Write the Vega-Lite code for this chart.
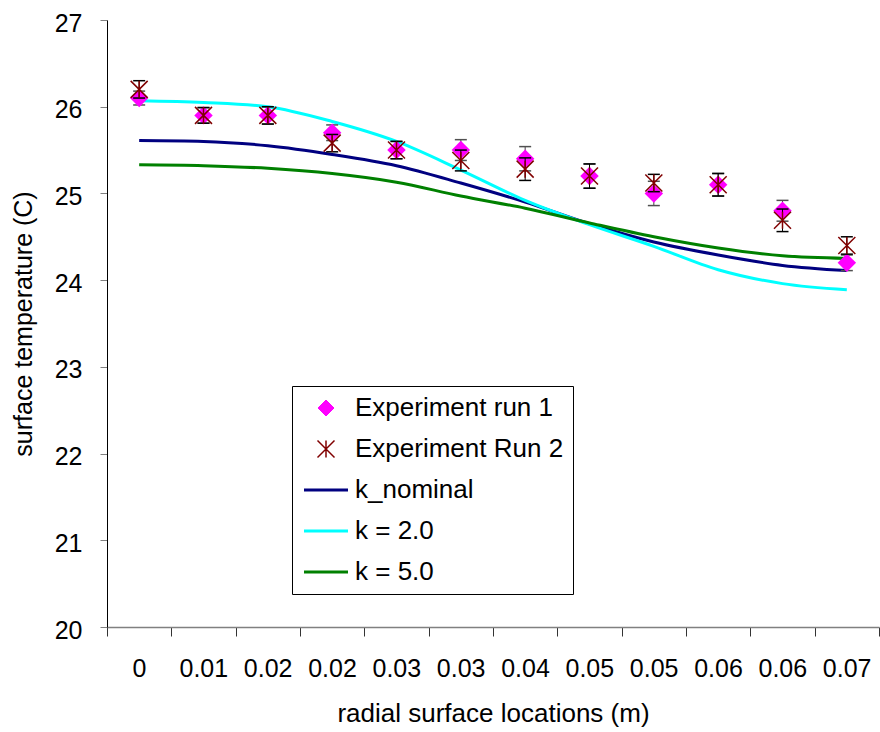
{
  "$schema": "https://vega.github.io/schema/vega-lite/v6.json",
  "width": 772,
  "height": 607,
  "autosize": {"type": "none"},
  "padding": {"left": 107, "top": 20, "right": 1, "bottom": 105},
  "background": "white",
  "config": {
    "view": {"stroke": null},
    "font": "Liberation Sans",
    "axis": {"grid": false, "labelColor": "black", "titleColor": "black", "titleFontWeight": "normal", "labelFont": "Liberation Sans", "titleFont": "Liberation Sans"},
    "legend": {"labelFont": "Liberation Sans"}
  },
  "datasets": {
    "exp": [
      {"series": "Experiment run 1", "i": 0, "t": 26.1, "lo": 26.02, "hi": 26.18},
      {"series": "Experiment run 1", "i": 1, "t": 25.9, "lo": 25.81, "hi": 25.99},
      {"series": "Experiment run 1", "i": 2, "t": 25.9, "lo": 25.8, "hi": 26.0},
      {"series": "Experiment run 1", "i": 3, "t": 25.7, "lo": 25.61, "hi": 25.79},
      {"series": "Experiment run 1", "i": 4, "t": 25.5, "lo": 25.4, "hi": 25.6},
      {"series": "Experiment run 1", "i": 5, "t": 25.5, "lo": 25.38, "hi": 25.62},
      {"series": "Experiment run 1", "i": 6, "t": 25.4, "lo": 25.26, "hi": 25.54},
      {"series": "Experiment run 1", "i": 7, "t": 25.2, "lo": 25.06, "hi": 25.34},
      {"series": "Experiment run 1", "i": 8, "t": 25.0, "lo": 24.86, "hi": 25.14},
      {"series": "Experiment run 1", "i": 9, "t": 25.1, "lo": 24.97, "hi": 25.23},
      {"series": "Experiment run 1", "i": 10, "t": 24.8, "lo": 24.68, "hi": 24.92},
      {"series": "Experiment run 1", "i": 11, "t": 24.2, "lo": 24.11, "hi": 24.29},
      {"series": "Experiment Run 2", "i": 0, "t": 26.2, "lo": 26.1, "hi": 26.3},
      {"series": "Experiment Run 2", "i": 1, "t": 25.9, "lo": 25.81, "hi": 25.99},
      {"series": "Experiment Run 2", "i": 2, "t": 25.9, "lo": 25.8, "hi": 26.0},
      {"series": "Experiment Run 2", "i": 3, "t": 25.58, "lo": 25.48, "hi": 25.68},
      {"series": "Experiment Run 2", "i": 4, "t": 25.5, "lo": 25.4, "hi": 25.6},
      {"series": "Experiment Run 2", "i": 5, "t": 25.38, "lo": 25.26, "hi": 25.5},
      {"series": "Experiment Run 2", "i": 6, "t": 25.28, "lo": 25.15, "hi": 25.41},
      {"series": "Experiment Run 2", "i": 7, "t": 25.2, "lo": 25.06, "hi": 25.34},
      {"series": "Experiment Run 2", "i": 8, "t": 25.12, "lo": 25.02, "hi": 25.22},
      {"series": "Experiment Run 2", "i": 9, "t": 25.1, "lo": 24.97, "hi": 25.23},
      {"series": "Experiment Run 2", "i": 10, "t": 24.69, "lo": 24.56, "hi": 24.82},
      {"series": "Experiment Run 2", "i": 11, "t": 24.4, "lo": 24.3, "hi": 24.5}
    ],
    "sim": [
      {"series": "k_nominal", "i": 0, "t": 25.61},
      {"series": "k_nominal", "i": 1, "t": 25.6},
      {"series": "k_nominal", "i": 2, "t": 25.55},
      {"series": "k_nominal", "i": 3, "t": 25.45},
      {"series": "k_nominal", "i": 4, "t": 25.32},
      {"series": "k_nominal", "i": 5, "t": 25.12},
      {"series": "k_nominal", "i": 6, "t": 24.9},
      {"series": "k_nominal", "i": 7, "t": 24.65},
      {"series": "k_nominal", "i": 8, "t": 24.44},
      {"series": "k_nominal", "i": 9, "t": 24.29},
      {"series": "k_nominal", "i": 10, "t": 24.17},
      {"series": "k_nominal", "i": 11, "t": 24.11},
      {"series": "k = 2.0", "i": 0, "t": 26.07},
      {"series": "k = 2.0", "i": 1, "t": 26.05},
      {"series": "k = 2.0", "i": 2, "t": 26.0},
      {"series": "k = 2.0", "i": 3, "t": 25.83},
      {"series": "k = 2.0", "i": 4, "t": 25.6},
      {"series": "k = 2.0", "i": 5, "t": 25.27},
      {"series": "k = 2.0", "i": 6, "t": 24.92},
      {"series": "k = 2.0", "i": 7, "t": 24.64},
      {"series": "k = 2.0", "i": 8, "t": 24.39},
      {"series": "k = 2.0", "i": 9, "t": 24.12},
      {"series": "k = 2.0", "i": 10, "t": 23.96},
      {"series": "k = 2.0", "i": 11, "t": 23.89},
      {"series": "k = 5.0", "i": 0, "t": 25.33},
      {"series": "k = 5.0", "i": 1, "t": 25.32},
      {"series": "k = 5.0", "i": 2, "t": 25.29},
      {"series": "k = 5.0", "i": 3, "t": 25.23},
      {"series": "k = 5.0", "i": 4, "t": 25.13},
      {"series": "k = 5.0", "i": 5, "t": 24.97},
      {"series": "k = 5.0", "i": 6, "t": 24.83},
      {"series": "k = 5.0", "i": 7, "t": 24.66},
      {"series": "k = 5.0", "i": 8, "t": 24.5},
      {"series": "k = 5.0", "i": 9, "t": 24.37},
      {"series": "k = 5.0", "i": 10, "t": 24.28},
      {"series": "k = 5.0", "i": 11, "t": 24.25}
    ]
  },
  "encoding": {
    "x": {
      "field": "i", "type": "quantitative",
      "scale": {"domain": [-0.5, 11.5], "nice": false, "zero": false},
      "axis": {
        "title": "radial surface locations (m)",
        "values": [-0.5, 0.5, 1.5, 2.5, 3.5, 4.5, 5.5, 6.5, 7.5, 8.5, 9.5, 10.5, 11.5],
        "labelExpr": "datum.value > 11 ? '' : ['0','0.01','0.02','0.02','0.03','0.03','0.04','0.05','0.05','0.06','0.06','0.07'][round(datum.value + 0.5)]",
        "labelOffset": 32,
        "labelFlush": false, "labelOverlap": false, "labelBound": false,
        "tickSize": 9, "tickColor": "#333333", "tickWidth": 1,
        "domainColor": "#808080", "domainWidth": 1.5,
        "labelPadding": 20, "labelFontSize": 25, "titleFontSize": 26, "titlePadding": 19
      }
    },
    "y": {
      "field": "t", "type": "quantitative",
      "scale": {"domain": [20, 27], "nice": false, "zero": false},
      "axis": {
        "title": "surface temperature (C)",
        "values": [20, 21, 22, 23, 24, 25, 26, 27],
        "tickSize": 7, "tickColor": "#808080", "domainColor": "black", "domainWidth": 1,
        "labelPadding": 18, "labelOffset": 3, "labelFontSize": 25, "titleFontSize": 25, "titlePadding": 18
      }
    }
  },
  "layer": [
    {
      "data": {"name": "sim"},
      "mark": {"type": "line", "strokeWidth": 3, "interpolate": "monotone"},
      "encoding": {
        "color": {
          "field": "series", "type": "nominal",
          "scale": {"domain": ["Experiment run 1", "Experiment Run 2", "k_nominal", "k = 2.0", "k = 5.0"], "range": ["#ff00ff", "#800000", "#000080", "#00ffff", "#008000"]},
          "legend": {
            "title": null, "orient": "none", "legendX": 185, "legendY": 366,
            "strokeColor": "black", "fillColor": "white", "padding": 9,
            "labelFontSize": 26, "labelColor": "black", "labelOffset": 16, "labelLimit": 0,
            "symbolSize": 400, "symbolOffset": 12, "rowPadding": 15,
            "encoding": {
              "symbols": {
                "shape": {"value": {"expr": "datum.value === 'Experiment run 1' ? 'M0,-0.8L0.8,0L0,0.8L-0.8,0Z' : datum.value === 'Experiment Run 2' ? 'M-0.85,-0.85L0.85,0.85M-0.85,0.85L0.85,-0.85M0,-0.85L0,0.85' : 'M-2.2,0L2.2,0'"}},
                "fill": {"value": {"expr": "datum.value === 'Experiment run 1' ? '#ff00ff' : 'transparent'"}},
                "stroke": {"value": {"expr": "datum.value === 'Experiment run 1' ? '#ff00ff' : datum.value === 'Experiment Run 2' ? '#800000' : datum.value === 'k_nominal' ? '#000080' : datum.value === 'k = 2.0' ? '#00ffff' : '#008000'"}},
                "strokeWidth": {"value": {"expr": "datum.value === 'Experiment Run 2' ? 1.5 : datum.value === 'Experiment run 1' ? 1 : 3"}},
                "opacity": {"value": 1}
              }
            }
          }
        }
      }
    },
    {
      "data": {"name": "exp"},
      "transform": [{"filter": "datum.series === 'Experiment run 1'"}],
      "mark": {"type": "rule", "color": "#404040", "strokeWidth": 1},
      "encoding": {"y": {"field": "lo", "type": "quantitative"}, "y2": {"field": "hi"}}
    },
    {
      "data": {"name": "exp"},
      "transform": [{"filter": "datum.series === 'Experiment run 1'"}],
      "mark": {"type": "point", "shape": "stroke", "filled": false, "size": 144, "color": "#505050", "strokeWidth": 1.5, "opacity": 1},
      "encoding": {"y": {"field": "lo", "type": "quantitative"}}
    },
    {
      "data": {"name": "exp"},
      "transform": [{"filter": "datum.series === 'Experiment run 1'"}],
      "mark": {"type": "point", "shape": "stroke", "filled": false, "size": 144, "color": "#505050", "strokeWidth": 1.5, "opacity": 1},
      "encoding": {"y": {"field": "hi", "type": "quantitative"}}
    },
    {
      "data": {"name": "exp"},
      "transform": [{"filter": "datum.series === 'Experiment run 1'"}],
      "mark": {"type": "point", "shape": "diamond", "filled": true, "size": 340, "opacity": 1, "strokeWidth": 0},
      "encoding": {"color": {"field": "series", "type": "nominal"}}
    },
    {
      "data": {"name": "exp"},
      "transform": [{"filter": "datum.series === 'Experiment Run 2'"}],
      "mark": {"type": "rule", "color": "black", "strokeWidth": 1},
      "encoding": {"y": {"field": "lo", "type": "quantitative"}, "y2": {"field": "hi"}}
    },
    {
      "data": {"name": "exp"},
      "transform": [{"filter": "datum.series === 'Experiment Run 2'"}],
      "mark": {"type": "point", "shape": "stroke", "filled": false, "size": 144, "color": "black", "strokeWidth": 1.5, "opacity": 1},
      "encoding": {"y": {"field": "lo", "type": "quantitative"}}
    },
    {
      "data": {"name": "exp"},
      "transform": [{"filter": "datum.series === 'Experiment Run 2'"}],
      "mark": {"type": "point", "shape": "stroke", "filled": false, "size": 144, "color": "black", "strokeWidth": 1.5, "opacity": 1},
      "encoding": {"y": {"field": "hi", "type": "quantitative"}}
    },
    {
      "data": {"name": "exp"},
      "transform": [{"filter": "datum.series === 'Experiment Run 2'"}],
      "mark": {"type": "point", "shape": "M-1,-1L1,1M-1,1L1,-1M0,-1L0,1", "filled": false, "size": 289, "opacity": 1, "strokeWidth": 1.5},
      "encoding": {"color": {"field": "series", "type": "nominal"}}
    }
  ]
}
